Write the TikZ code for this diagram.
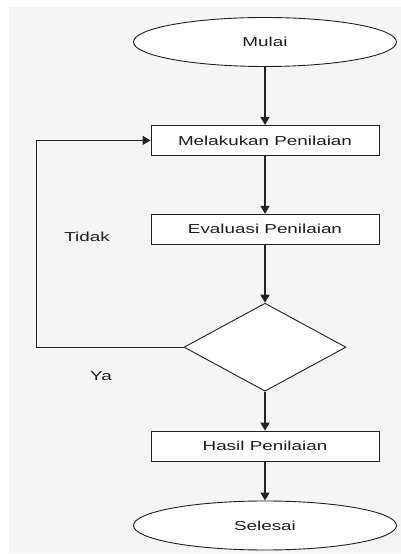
\documentclass[tikz,border=0pt]{standalone}
\usepackage{fontspec}
\setmainfont{Liberation Sans}[FakeStretch=1.45]
\usepackage{xcolor}
\usetikzlibrary{arrows.meta,positioning,shapes.geometric}
\definecolor{Ink}{HTML}{222222}
\definecolor{TextGray}{HTML}{1E1E1E}
\definecolor{Panel}{HTML}{F5F5F5}
\tikzset{
  flowfont/.style={font=\fontsize{13pt}{15pt}\selectfont,text=TextGray},
  terminal/.style={ellipse,draw=Ink,fill=white,line width=0.9pt,
              minimum width=263pt,minimum height=49pt,inner sep=0pt,flowfont},
  procbox/.style={rectangle,draw=Ink,fill=white,line width=0.9pt,
              minimum width=228pt,minimum height=30pt,inner sep=0pt,flowfont},
  decision/.style={diamond,draw=Ink,fill=white,line width=0.9pt,
              minimum width=162pt,minimum height=88pt,inner sep=0pt},
  flow/.style={-{Triangle[length=8pt,width=9pt]},line width=1.4pt,draw=Ink},
  loopline/.style={-{Triangle[length=8pt,width=9pt]},line width=0.9pt,draw=Ink},
  note/.style={flowfont}
}
\begin{document}
\begin{tikzpicture}[x=1pt,y=1pt,node distance=58pt]
  \useasboundingbox (0,0) rectangle (401,554);
  \fill[Panel] (9,1) rectangle (401,547);
  \node[terminal] (mulai) at (265,512) {Mulai};
  \node[procbox,below=of mulai] (nilai) {Melakukan Penilaian};
  \node[procbox,below=of nilai] (evaluasi) {Evaluasi Penilaian};
  \node[decision,below=of evaluasi] (cek) {};
  \node[procbox,below=39pt of cek] (hasil) {Hasil Penilaian};
  \node[terminal,below=39pt of hasil] (selesai) {Selesai};
  \draw[flow] (mulai) -- (nilai);
  \draw[flow] (nilai) -- (evaluasi);
  \draw[flow] (evaluasi) -- (cek);
  \draw[flow] (cek) -- (hasil);
  \draw[flow] (hasil) -- (selesai);
  \draw[loopline] (cek.west) -- ++(-147,0) |- (nilai.west);
  \node[note] (tidak) at (87,317) {Tidak};
  \node[note] (ya) at (101,178) {Ya};
\end{tikzpicture}
\end{document}
